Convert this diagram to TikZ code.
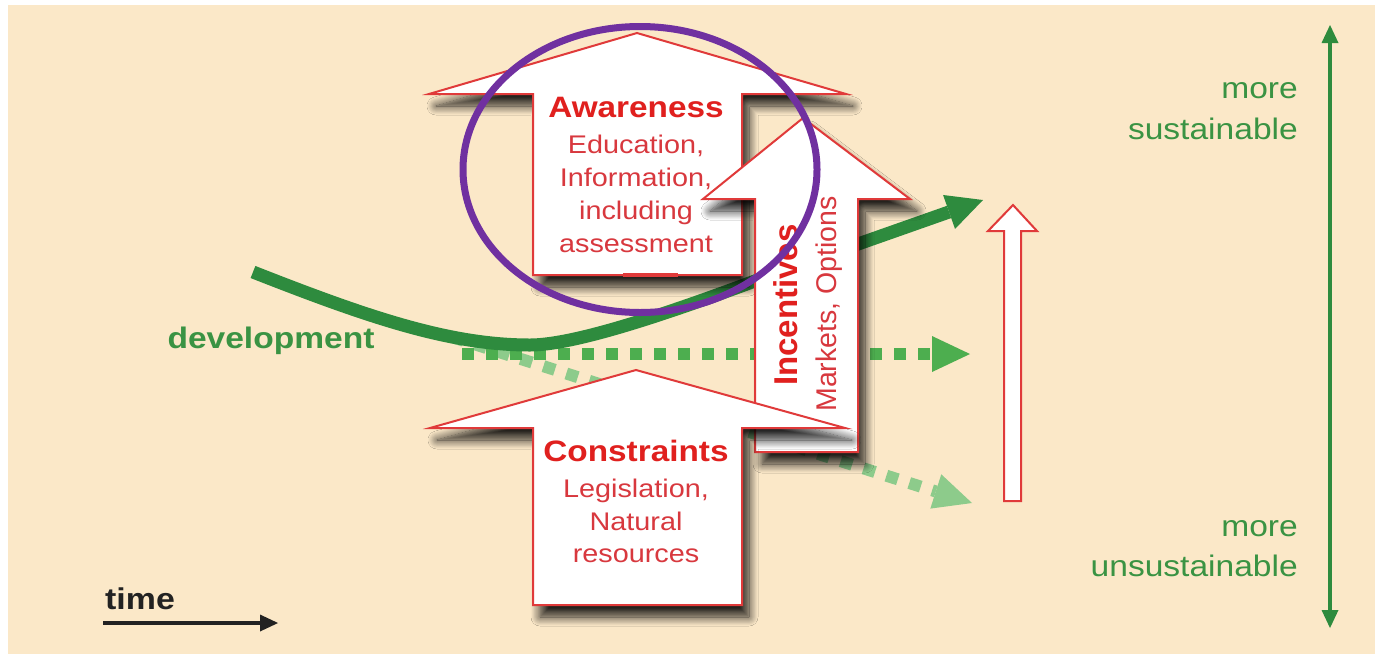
\documentclass[tikz,border=0pt]{standalone}
\usepackage{fontspec}
\setmainfont{Liberation Sans}
\newfontfamily\hfont{Liberation Sans}[FakeStretch=1.13]
\newfontfamily\vfont{Liberation Sans}
\usetikzlibrary{arrows.meta,shadows.blur}
\definecolor{bgcol}{HTML}{FBE8C8}
\definecolor{arrowred}{HTML}{E03A3A}
\definecolor{titlered}{HTML}{E0201E}
\definecolor{bodyred}{HTML}{D8383E}
\definecolor{greentext}{HTML}{3A9343}
\definecolor{curvecol}{HTML}{2E8B3E}
\definecolor{dotmid}{HTML}{4DAE4F}
\definecolor{dotlight}{HTML}{8DCB8B}
\definecolor{ringcol}{HTML}{7030A0}
\definecolor{timecol}{HTML}{222222}
\begin{document}
\begin{tikzpicture}[x=1pt,y=-1pt,
  hollow/.style={fill=white, draw=arrowred, line width=2pt, line join=miter,
    blur shadow={shadow xshift=7pt, shadow yshift=-12pt, shadow blur radius=9pt, shadow opacity=85, shadow blur steps=12}},
  slim/.style={fill=white, draw=arrowred, line width=2pt, line join=miter},
  ttl/.style={font=\hfont\bfseries\fontsize{29.5}{33}\selectfont, text=titlered, inner sep=0pt, anchor=base},
  bdy/.style={font=\hfont\fontsize{25.5}{30}\selectfont, text=bodyred, inner sep=0pt, anchor=base},
  vttl/.style={font=\vfont\bfseries\fontsize{33}{36}\selectfont, text=titlered, inner sep=0pt, anchor=base, rotate=90},
  vbdy/.style={font=\vfont\fontsize{28.5}{32}\selectfont, text=bodyred, inner sep=0pt, anchor=base, rotate=90},
  glabel/.style={font=\hfont\fontsize{29.7}{33}\selectfont, text=greentext, inner sep=0pt, anchor=base east},
  dotline/.style={line width=12pt, dash pattern=on 12pt off 12pt},
]
\useasboundingbox (0,0) rectangle (1375,654);
\fill[white] (0,0) rectangle (1375,654);
\fill[bgcol] (8,5) rectangle (1375,654);

% named coordinates for the flows
\coordinate (dstart) at (253,272);
\coordinate (dbend) at (790,268);
\coordinate (dend) at (983,200);
\coordinate (hstart) at (462,354);
\coordinate (hend) at (970,354);
\coordinate (lstart) at (452,337);
\coordinate (lend) at (972,503);

% dotted scenarios
\draw[dotline, dotlight, -{Triangle[length=38pt,width=36pt,line width=0pt]}] (lstart) -- (lend);
\draw[dotline, dotmid, -{Triangle[length=38pt,width=36pt,line width=0pt]}] (hstart) -- (hend);

% development curve
\draw[line width=13pt, curvecol, -{Triangle[length=36pt,width=36pt,line width=0pt]}]
  (dstart) .. controls (370,318) and (450,345) .. (530,345)
  .. controls (590,345) and (735,288) .. (dbend) -- (dend);

% Awareness arrow
\path[hollow] (637,33) -- (846,94) -- (742,94) -- (742,275) -- (533,275) -- (533,94) -- (429,94) -- cycle;
\draw[arrowred, line width=3.5pt] (623,275) -- (678,275);
% Incentives arrow
\path[hollow] (803,118) -- (910,199) -- (858,199) -- (858,452) -- (755,452) -- (755,199) -- (703,199) -- cycle;
% Constraints arrow
\path[hollow] (636,370) -- (845,428) -- (742,428) -- (742,605) -- (533,605) -- (533,428) -- (430,428) -- cycle;
% small upward arrow
\path[slim] (1013,205) -- (1037,231) -- (1021,231) -- (1021,501) -- (1004,501) -- (1004,231) -- (988,231) -- cycle;

% Awareness texts
\node[ttl] (awt) at (636,117) {Awareness};
\node[bdy] (aw1) at (636,153) {Education,};
\node[bdy] (aw2) at (636,186) {Information,};
\node[bdy] (aw3) at (636,219) {including};
\node[bdy] (aw4) at (636,252) {assessment};

% Constraints texts
\node[ttl] (cot) at (636,461) {Constraints};
\node[bdy] (co1) at (636,497) {Legislation,};
\node[bdy] (co2) at (636,530) {Natural};
\node[bdy] (co3) at (636,562) {resources};

% Incentives texts
\node[vttl] (int) at (797,305) {Incentives};
\node[vbdy] (in1) at (836,304) {Markets, Options};

% development label
\node[font=\hfont\bfseries\fontsize{29.7}{33}\selectfont, text=greentext, inner sep=0pt, anchor=base] (dev) at (271,348) {development};

% ring
\draw[ringcol, line width=7pt] (640,169.5) ellipse [x radius=177, y radius=143];

% sustainability axis
\coordinate (axtop) at (1330,25);
\coordinate (axbot) at (1330,628);
\draw[curvecol, line width=3.5pt, {Triangle[length=18pt,width=17pt,line width=0pt]}-{Triangle[length=18pt,width=17pt,line width=0pt]}] (axtop) -- (axbot);
\node[glabel] (m1) at (1298,98) {more};
\node[glabel] (s1) at (1298,139) {sustainable};
\node[glabel] (m2) at (1298,536) {more};
\node[glabel] (s2) at (1298,576) {unsustainable};

% time
\node[font=\hfont\bfseries\fontsize{30}{33}\selectfont, text=timecol, inner sep=0pt, anchor=base] (time) at (140,609) {time};
\coordinate (tstart) at (103,623);
\coordinate (tend) at (278,623);
\draw[timecol, line width=3.5pt, -{Triangle[length=18pt,width=17pt,line width=0pt]}] (tstart) -- (tend);
\end{tikzpicture}
\end{document}
